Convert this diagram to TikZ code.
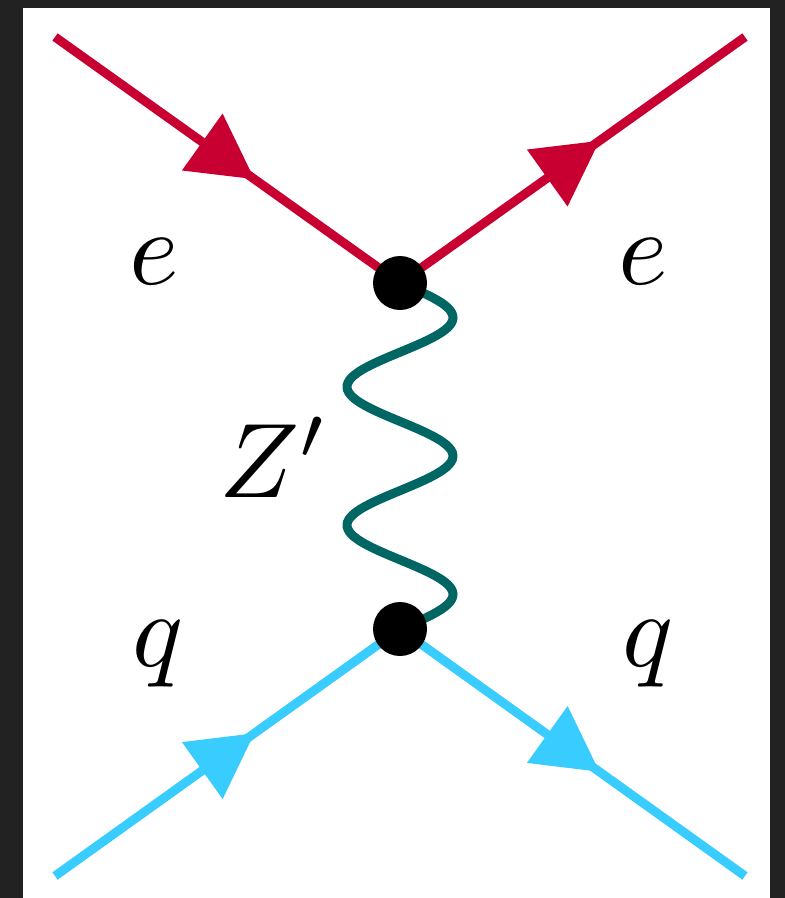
\documentclass[tikz,border=0pt]{standalone}
\usetikzlibrary{decorations.markings}
\definecolor{elec}{RGB}{200,0,50}
\definecolor{quark}{RGB}{56,204,255}
\definecolor{zboson}{RGB}{0,102,100}
\definecolor{frame}{RGB}{34,34,34}
\tikzset{
  fermion/.style={line width=9pt, postaction={decorate},
    decoration={markings, mark=at position 0.5 with {\fill (-31,-35) -- (33,0) -- (-31,35) -- cycle;}}},
  zwave/.style={line width=9pt, zboson, line cap=round},
  vertexdot/.style={circle, fill=black, inner sep=0pt, minimum size=54pt},
  lbl/.style={anchor=base, inner sep=0pt, scale=10.6}
}
\begin{document}
\begin{tikzpicture}[x=1pt,y=-1pt]
  \fill[frame] (0,0) rectangle (785,898);
  \fill[white] (23,8) rectangle (770,898);
  \useasboundingbox (0,0) rectangle (785,898);
  \coordinate (tl) at (55,37);
  \coordinate (tr) at (745,37);
  \coordinate (bl) at (55,876);
  \coordinate (br) at (745,876);
  \coordinate (v1c) at (400,283);
  \coordinate (v2c) at (400,629);
  \draw[fermion, elec] (tl) -- (v1c);
  \draw[fermion, elec] (v1c) -- (tr);
  \draw[fermion, quark] (bl) -- (v2c);
  \draw[fermion, quark] (v2c) -- (br);
  \begin{scope}[shift={(v1c)}]
    \draw[zwave] plot[domain=0:346, samples=140, smooth] ({53*sin(\x*2.60116)}, \x);
  \end{scope}
  \node[vertexdot] (v1) at (v1c) {};
  \node[vertexdot] (v2) at (v2c) {};
  \node[lbl] (e1) at (154,284) {$e$};
  \node[lbl] (e2) at (643,284) {$e$};
  \node[lbl] (zp) at (274,497) {$Z'$};
  \node[lbl] (q1) at (158,666) {$q$};
  \node[lbl] (q2) at (648,666) {$q$};
\end{tikzpicture}
\end{document}
